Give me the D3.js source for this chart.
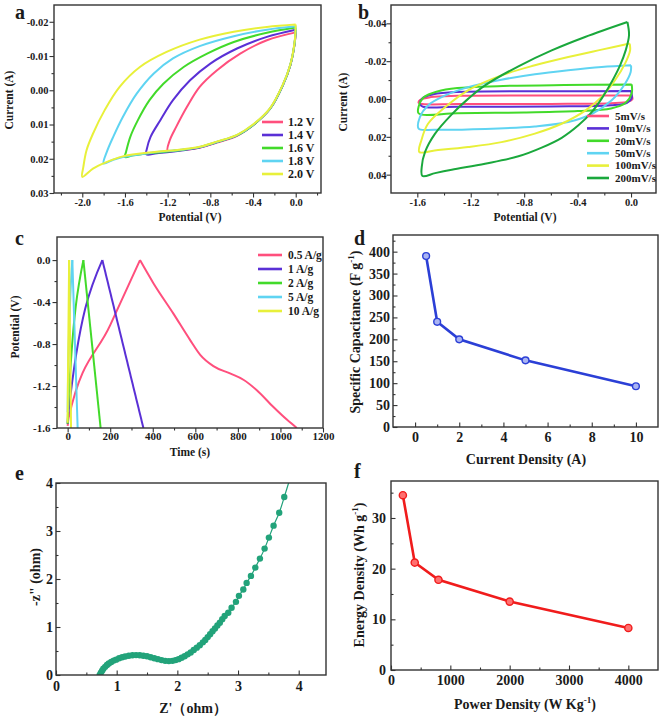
<!DOCTYPE html>
<html><head><meta charset="utf-8">
<script src="https://cdn.jsdelivr.net/npm/d3@7"></script>
<style>
body{margin:0;background:#fff}
svg text{font-family:"Liberation Serif","Times New Roman",serif;font-weight:bold;fill:#1a1a1a}
</style>
</head><body>
<script>
// ---------------- DATA ----------------
// Panel a: CV at different potential windows  [Potential (V), Current (A)]
const aNames = ["1.2 V","1.4 V","1.6 V","1.8 V","2.0 V"];
const a12 = [[0,-0.0169],[-0.27,-0.0146],[-0.52,-0.0107],[-0.74,-0.0058],[-0.90,-0.0010],[-1.02,0.0049],[-1.12,0.0107],[-1.18,0.0146],[-1.20,0.0177],[-1.12,0.0176],[-0.90,0.0168],[-0.74,0.0153],[-0.55,0.0133],[-0.40,0.0102],[-0.24,0.0054],[-0.12,-0.0015],[-0.05,-0.0073],[-0.01,-0.0136],[0,-0.0169]];
const a14 = [[0,-0.0177],[-0.27,-0.0156],[-0.55,-0.0122],[-0.80,-0.0078],[-0.99,-0.0029],[-1.15,0.0029],[-1.27,0.0088],[-1.36,0.0136],[-1.395,0.0171],[-1.40,0.0187],[-1.30,0.0184],[-1.05,0.0175],[-0.90,0.0167],[-0.74,0.0152],[-0.55,0.0132],[-0.40,0.0102],[-0.24,0.0054],[-0.12,-0.0015],[-0.05,-0.0074],[-0.01,-0.0137],[0,-0.0177]];
const a16 = [[0,-0.0183],[-0.27,-0.0168],[-0.58,-0.0141],[-0.83,-0.0107],[-1.05,-0.0068],[-1.24,-0.0019],[-1.37,0.0029],[-1.48,0.0088],[-1.55,0.0136],[-1.59,0.0180],[-1.60,0.0195],[-1.52,0.0190],[-1.37,0.0184],[-1.05,0.0174],[-0.90,0.0166],[-0.74,0.0151],[-0.55,0.0132],[-0.40,0.0102],[-0.24,0.0054],[-0.12,-0.0015],[-0.05,-0.0074],[-0.01,-0.0138],[0,-0.0183]];
const a18 = [[0,-0.0187],[-0.27,-0.0177],[-0.58,-0.0158],[-0.90,-0.0129],[-1.15,-0.0093],[-1.33,-0.0049],[-1.49,0.0010],[-1.62,0.0078],[-1.71,0.0136],[-1.77,0.0180],[-1.80,0.0214],[-1.71,0.0203],[-1.62,0.0195],[-1.37,0.0183],[-1.05,0.0173],[-0.90,0.0166],[-0.74,0.0151],[-0.55,0.0131],[-0.40,0.0101],[-0.24,0.0053],[-0.12,-0.0016],[-0.05,-0.0075],[-0.01,-0.0140],[0,-0.0187]];
const a20 = [[0,-0.0192],[-0.27,-0.0185],[-0.58,-0.0171],[-0.90,-0.0148],[-1.21,-0.0112],[-1.46,-0.0068],[-1.65,-0.0010],[-1.79,0.0058],[-1.90,0.0127],[-1.96,0.0175],[-1.99,0.0224],[-2.00,0.0253],[-1.90,0.0229],[-1.79,0.0212],[-1.62,0.0193],[-1.37,0.0182],[-1.05,0.0172],[-0.90,0.0165],[-0.74,0.0150],[-0.55,0.0130],[-0.40,0.0100],[-0.24,0.0052],[-0.12,-0.0017],[-0.05,-0.0076],[-0.01,-0.0142],[0,-0.0192]];
const aXTicks = [-2.0,-1.6,-1.2,-0.8,-0.4,0.0];
const aYTicks = [-0.02,-0.01,0.00,0.01,0.02,0.03];

// Panel b: CV at different scan rates
const bNames = ["5mV/s","10mV/s","20mV/s","50mV/s","100mV/s","200mV/s"];
const b5 = [[0.005,-0.0019],[-0.6,-0.0019],[-1.3,-0.0017],[-1.5,-0.0010],[-1.58,0.0005],[-1.59,0.0020],[-1.56,0.0027],[-1.3,0.0027],[-0.6,0.0026],[-0.15,0.0022],[-0.02,0.0014],[0.01,0.0002],[0.005,-0.0019]];
const b10 = [[0,-0.0042],[-0.6,-0.0041],[-1.3,-0.0037],[-1.48,-0.0025],[-1.56,-0.0005],[-1.58,0.0025],[-1.56,0.0040],[-1.3,0.0041],[-0.6,0.0039],[-0.15,0.0033],[-0.03,0.0020],[0.005,-0.0005],[0,-0.0042]];
const b20 = [[0.005,-0.0077],[-0.5,-0.0074],[-1.0,-0.0068],[-1.3,-0.0058],[-1.45,-0.0040],[-1.55,-0.0010],[-1.59,0.0040],[-1.59,0.0076],[-1.3,0.0075],[-0.8,0.0071],[-0.4,0.0064],[-0.15,0.0050],[-0.04,0.0020],[0.005,-0.0030],[0.005,-0.0077]];
const b50 = [[0,-0.0178],[-0.22,-0.0169],[-0.47,-0.0152],[-0.72,-0.0131],[-0.97,-0.0102],[-1.22,-0.0063],[-1.39,-0.0019],[-1.52,0.0034],[-1.58,0.0095],[-1.59,0.0157],[-1.47,0.0162],[-1.09,0.0158],[-0.72,0.0145],[-0.47,0.0122],[-0.29,0.0078],[-0.145,0.0007],[-0.045,-0.0081],[-0.0025,-0.0143],[0,-0.0178]];
const b100 = [[-0.01,-0.0293],[-0.22,-0.0261],[-0.47,-0.0222],[-0.72,-0.0178],[-0.97,-0.0125],[-1.22,-0.0046],[-1.39,0.0042],[-1.52,0.0131],[-1.57,0.0219],[-1.585,0.0280],[-1.47,0.0272],[-1.22,0.0254],[-0.97,0.0228],[-0.72,0.0183],[-0.52,0.0131],[-0.34,0.0060],[-0.22,-0.0011],[-0.12,-0.0099],[-0.045,-0.0187],[-0.007,-0.0257],[-0.01,-0.0293]];
const b200 = [[-0.027,-0.0407],[-0.344,-0.0328],[-0.594,-0.0257],[-0.843,-0.0173],[-1.093,-0.0072],[-1.218,-0.0002],[-1.342,0.0081],[-1.467,0.0183],[-1.542,0.0280],[-1.567,0.0360],[-1.562,0.0407],[-1.467,0.0392],[-1.342,0.0374],[-1.093,0.0342],[-0.843,0.0303],[-0.669,0.0257],[-0.519,0.0205],[-0.394,0.0139],[-0.294,0.0069],[-0.220,-0.0002],[-0.145,-0.0090],[-0.082,-0.0178],[-0.040,-0.0257],[-0.015,-0.0337],[-0.027,-0.0407]];
const bXTicks = [-1.6,-1.2,-0.8,-0.4,0.0];
const bYTicks = [-0.04,-0.02,0.00,0.02,0.04];

// Panel c: GCD curves [Time (s), Potential (V)]
const cNames = ["0.5 A/g","1 A/g","2 A/g","5 A/g","10 A/g"];
const c05 = [[0,-1.58],[5,-1.50],[200,-0.62],[340,0],[403,-0.22],[497,-0.51],[575,-0.76],[622,-0.90],[685,-1.01],[763,-1.08],[826,-1.14],[889,-1.24],[967,-1.40],[1030,-1.52],[1077,-1.60]];
const c1 = [[0,-1.56],[3,-1.47],[163,0],[356,-1.60]];
const c2 = [[0,-1.56],[2,-1.42],[74,0],[155,-1.60]];
const c5 = [[0,-1.45],[2,-1.10],[22,0],[47,-1.60]];
const c10 = [[0,-1.55],[1,-1.20],[7,0],[16,-1.60]];
const cXTicks = [0,200,400,600,800,1000,1200];
const cYTicks = [0.0,-0.4,-0.8,-1.2,-1.6];

// Panel d: specific capacitance vs current density
const dX = [0.5,1,2,5,10];
const dY = [390,240,200,152,93];
const dXTicks = [0,2,4,6,8,10];
const dYTicks = [0,50,100,150,200,250,300,350,400];

// Panel e: Nyquist plot [Z', -Z'']
const eZ = [[0.72,0.00],[0.74,0.05],[0.76,0.09],[0.78,0.13],[0.81,0.17],[0.84,0.21],[0.87,0.24],[0.91,0.27],[0.95,0.30],[0.99,0.32],[1.04,0.35],[1.09,0.37],[1.14,0.385],[1.20,0.40],[1.26,0.41],[1.32,0.415],[1.38,0.41],[1.44,0.40],[1.50,0.39],[1.56,0.37],[1.62,0.35],[1.68,0.33],[1.74,0.31],[1.80,0.295],[1.86,0.29],[1.92,0.295],[1.97,0.31],[2.02,0.33],[2.07,0.36],[2.12,0.39],[2.17,0.43],[2.22,0.47],[2.27,0.52],[2.32,0.57],[2.37,0.62],[2.42,0.68],[2.46,0.73],[2.50,0.79],[2.54,0.85],[2.58,0.91],[2.62,0.97],[2.66,1.03],[2.70,1.09],[2.74,1.16],[2.78,1.23],[2.839,1.296],[2.894,1.400],[2.966,1.524],[3.015,1.649],[3.087,1.781],[3.142,1.919],[3.213,2.065],[3.285,2.238],[3.361,2.425],[3.438,2.633],[3.509,2.862],[3.586,3.111],[3.679,3.381],[3.762,3.707],[3.87,4.15]];
const eTicks = [0,1,2,3,4];

// Panel f: Ragone plot
const fX = [200,400,800,2000,4000];
const fY = [34.5,21.2,17.8,13.5,8.3];
const fXTicks = [0,1000,2000,3000,4000];
const fYTicks = [0,10,20,30];

// ---------------- STYLE ----------------
const C = {pink:"#ff4f7d", purple:"#5a30d6", green:"#42da2a", cyan:"#5fd4f2", yellow:"#e8f03a", dgreen:"#1aa83c"};
const W = 661, H = 721;
const svg = d3.select("body").append("svg").attr("width", W).attr("height", H);
svg.append("rect").attr("width", W).attr("height", H).attr("fill", "#fff");
const fmt = f => d => d3.format(f)(d).replace("\u2212", "-");
const blank = () => "";

function makePanel(p) {
  const x = d3.scaleLinear().domain(p.xDom).range([p.box.l, p.box.r]);
  const y = d3.scaleLinear().domain(p.yDom).range(p.yDown ? [p.box.t, p.box.b] : [p.box.b, p.box.t]);
  const g = svg.append("g");
  const cid = "clip-" + p.id;
  g.append("clipPath").attr("id", cid).append("rect")
    .attr("x", p.box.l).attr("y", p.box.t).attr("width", p.box.r - p.box.l).attr("height", p.box.b - p.box.t);
  const plot = g.append("g").attr("clip-path", `url(#${cid})`);
  const s = p.inward ? -1 : 1;
  const addAxis = (fn, scale, vals, f, size, pad, tr) => {
    const a = g.append("g").attr("transform", tr)
      .call(fn(scale).tickValues(vals).tickFormat(f).tickSize(size).tickSizeOuter(0).tickPadding(pad));
    a.select(".domain").remove();
    a.attr("font-size", p.fs).attr("color", "#333");
    a.selectAll("line").attr("stroke-width", 1.1);
  };
  addAxis(d3.axisBottom, x, p.xMinor, blank, s * 2.5, 0, `translate(0,${p.box.b})`);
  addAxis(d3.axisBottom, x, p.xTicks, p.xFmt, s * 4.5, p.xPad, `translate(0,${p.box.b})`);
  addAxis(d3.axisLeft, y, p.yMinor, blank, s * 2.5, 0, `translate(${p.box.l},0)`);
  addAxis(d3.axisLeft, y, p.yTicks, p.yFmt, s * 4.5, p.yPad, `translate(${p.box.l},0)`);
  g.append("rect").attr("x", p.box.l).attr("y", p.box.t).attr("width", p.box.r - p.box.l)
    .attr("height", p.box.b - p.box.t).attr("fill", "none").attr("stroke", "#333").attr("stroke-width", 1.4);
  return {x, y, plot};
}

function addTitle(x, y, rot, fs, parts) {
  const t = svg.append("text").attr("transform", `translate(${x},${y}) rotate(${rot})`)
    .attr("text-anchor", "middle").attr("font-size", fs);
  let shift = 0;
  parts.forEach(([s, sup]) => {
    const ts = t.append("tspan").text(s);
    if (sup) { ts.attr("font-size", fs * 0.65).attr("dy", -fs * 0.4); shift = fs * 0.4; }
    else if (shift) { ts.attr("dy", shift); shift = 0; }
  });
}
function letter(x, y, s) {
  svg.append("text").attr("x", x).attr("y", y).attr("font-size", 20).text(s);
}
function legend(x0, x1, tx, y0, dy, fs, names, colors) {
  names.forEach((n, i) => {
    const yy = y0 + i * dy;
    svg.append("line").attr("x1", x0).attr("x2", x1).attr("y1", yy).attr("y2", yy)
      .attr("stroke", colors[i]).attr("stroke-width", 2.6);
    svg.append("text").attr("x", tx).attr("y", yy).attr("dy", "0.35em").attr("font-size", fs).text(n);
  });
}

// ---------------- PANEL a ----------------
{
  const P = makePanel({id:"a", box:{l:54, r:321, t:5, b:193}, xDom:[-2.265, 0.237], yDom:[-0.0249, 0.03], yDown:true,
    xTicks:aXTicks, xMinor:[-2.2,-1.8,-1.4,-1.0,-0.6,-0.2,0.2], yTicks:aYTicks, yMinor:[-0.015,-0.005,0.005,0.015,0.025],
    xFmt:fmt(".1f"), yFmt:fmt(".2f"), fs:10.5, xPad:1, yPad:1});
  const line = d3.line().x(d => P.x(d[0])).y(d => P.y(d[1])).curve(d3.curveCatmullRom.alpha(0.5));
  const series = [a12, a14, a16, a18, a20];
  const cols = [C.pink, C.purple, C.green, C.cyan, C.yellow];
  series.forEach((s, i) => P.plot.append("path").attr("d", line(s)).attr("fill", "none")
    .attr("stroke", cols[i]).attr("stroke-width", 2));
  legend(262, 283, 288, 122, 13, 12, aNames, cols);
  addTitle(13, 100, -90, 11.5, [["Current (A)"]]);
  addTitle(190, 221, 0, 11.5, [["Potential (V)"]]);
  letter(15, 19, "a");
}
// ---------------- PANEL b ----------------
{
  const P = makePanel({id:"b", box:{l:391, r:656, t:5, b:193}, xDom:[-1.797, 0.187], yDom:[-0.0497, 0.0497], yDown:true,
    xTicks:bXTicks, xMinor:[-1.4,-1.0,-0.6,-0.2], yTicks:bYTicks, yMinor:[-0.03,-0.01,0.01,0.03],
    xFmt:fmt(".1f"), yFmt:fmt(".2f"), fs:10.5, xPad:1, yPad:0});
  const line = d3.line().x(d => P.x(d[0])).y(d => P.y(d[1])).curve(d3.curveCatmullRom.alpha(0.5));
  const series = [b5, b10, b20, b50, b100, b200];
  const cols = [C.pink, C.purple, C.green, C.cyan, C.yellow, C.dgreen];
  series.forEach((s, i) => P.plot.append("path").attr("d", line(s)).attr("fill", "none")
    .attr("stroke", cols[i]).attr("stroke-width", 2));
  legend(587, 609, 615, 116, 12.4, 11, bNames, cols);
  addTitle(347, 102, -90, 11.5, [["Current (A)"]]);
  addTitle(525, 221, 0, 11.5, [["Potential (V)"]]);
  letter(358, 19, "b");
}
// ---------------- PANEL c ----------------
{
  const P = makePanel({id:"c", box:{l:57, r:323, t:237, b:428}, xDom:[-50, 1200], yDom:[-1.6, 0.22],
    xTicks:cXTicks, xMinor:[100,300,500,700,900,1100], yTicks:cYTicks, yMinor:[-0.2,-0.6,-1.0,-1.4],
    xFmt:fmt("d"), yFmt:fmt(".1f"), fs:11, xPad:0, yPad:2});
  const line = d3.line().x(d => P.x(d[0])).y(d => P.y(d[1])).curve(d3.curveMonotoneX);
  const series = [c05, c1, c2, c5, c10];
  const cols = [C.pink, C.purple, C.green, C.cyan, C.yellow];
  series.forEach((s, i) => {
    const k = d3.maxIndex(s, d => d[1]);
    [s.slice(0, k + 1), s.slice(k)].forEach(seg =>
      P.plot.append("path").attr("d", line(seg)).attr("fill", "none")
        .attr("stroke", cols[i]).attr("stroke-width", 2));
  });
  legend(258, 282, 288, 255, 14, 11.5, cNames, cols);
  addTitle(19, 327, -90, 11.5, [["Potential (V)"]]);
  addTitle(190, 456, 0, 11.5, [["Time (s)"]]);
  letter(15, 245, "c");
}
// ---------------- PANEL d ----------------
{
  const P = makePanel({id:"d", box:{l:393, r:658, t:235, b:427}, xDom:[-1, 11], yDom:[0, 438], inward:true,
    xTicks:dXTicks, xMinor:[1,3,5,7,9], yTicks:dYTicks, yMinor:[25,75,125,175,225,275,325,375,425],
    xFmt:fmt("d"), yFmt:fmt("d"), fs:14, xPad:5, yPad:3});
  const pts = dX.map((v, i) => [v, dY[i]]);
  P.plot.append("path").attr("d", d3.line().x(d => P.x(d[0])).y(d => P.y(d[1]))(pts))
    .attr("fill", "none").attr("stroke", "#2b3fd6").attr("stroke-width", 2.6);
  P.plot.selectAll("circle").data(pts).join("circle").attr("cx", d => P.x(d[0])).attr("cy", d => P.y(d[1]))
    .attr("r", 3.4).attr("fill", "#aab4f2").attr("stroke", "#2b3fd6").attr("stroke-width", 1.4);
  addTitle(360, 332, -90, 14, [["Specific Capacitance (F g"], ["-1", true], [")"]]);
  addTitle(526, 464, 0, 14, [["Current Density (A)"]]);
  letter(354, 245, "d");
}
// ---------------- PANEL e ----------------
{
  const P = makePanel({id:"e", box:{l:56, r:326, t:483, b:675}, xDom:[0, 4.45], yDom:[0, 4], inward:true,
    xTicks:eTicks, xMinor:[0.5,1.5,2.5,3.5], yTicks:eTicks, yMinor:[0.5,1.5,2.5,3.5],
    xFmt:fmt("d"), yFmt:fmt("d"), fs:14, xPad:6, yPad:3});
  P.plot.append("path").attr("d", d3.line().x(d => P.x(d[0])).y(d => P.y(d[1])).curve(d3.curveCatmullRom)(eZ))
    .attr("fill", "none").attr("stroke", "#1fa079").attr("stroke-width", 1.2);
  P.plot.selectAll("circle").data(eZ).join("circle").attr("cx", d => P.x(d[0])).attr("cy", d => P.y(d[1]))
    .attr("r", 3.2).attr("fill", "#22a37a");
  addTitle(40, 577, -90, 14, [["-z\" (ohm)"]]);
  addTitle(193, 713, 0, 14, [["Z'\uFF08ohm\uFF09"]]);
  letter(15, 480, "e");
}
// ---------------- PANEL f ----------------
{
  const P = makePanel({id:"f", box:{l:391, r:658, t:481, b:670}, xDom:[0, 4500], yDom:[0, 37.3], inward:true,
    xTicks:fXTicks, xMinor:[500,1500,2500,3500], yTicks:fYTicks, yMinor:[5,15,25,35],
    xFmt:fmt("d"), yFmt:fmt("d"), fs:14, xPad:5, yPad:5});
  const pts = fX.map((v, i) => [v, fY[i]]);
  P.plot.append("path").attr("d", d3.line().x(d => P.x(d[0])).y(d => P.y(d[1]))(pts))
    .attr("fill", "none").attr("stroke", "#f01c1c").attr("stroke-width", 2.6);
  P.plot.selectAll("circle").data(pts).join("circle").attr("cx", d => P.x(d[0])).attr("cy", d => P.y(d[1]))
    .attr("r", 3.6).attr("fill", "#ff7070").attr("stroke", "#f01c1c").attr("stroke-width", 1.4);
  addTitle(364, 575, -90, 14, [["Energy Density (Wh g"], ["-1", true], [")"]]);
  addTitle(525, 709, 0, 14, [["Power Density (W Kg"], ["-1", true], [")"]]);
  letter(354, 478, "f");
}
</script>
</body></html>
